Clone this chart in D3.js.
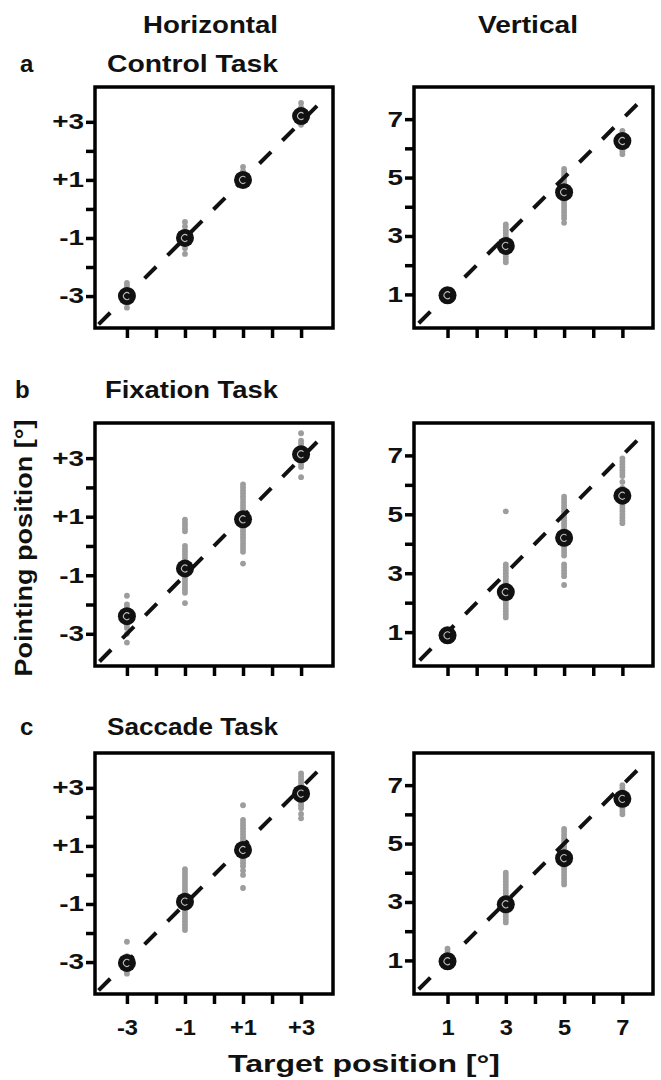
<!DOCTYPE html>
<html><head><meta charset="utf-8">
<script src="https://cdn.jsdelivr.net/npm/d3@7"></script>
<style>body{margin:0;background:#fff} svg{display:block}</style>
</head><body>
<script>
// ---------- data ----------
const hTargets = [-3, -1, 1, 3];
const vTargets = [1, 3, 5, 7];
const hTicks = [-3, -2, -1, 0, 1, 2, 3];
const vTicks = [1, 2, 3, 4, 5, 6, 7];
const hTickLabels = ["-3", "", "-1", "", "+1", "", "+3"];
const vTickLabels = ["1", "", "3", "", "5", "", "7"];
const taskNames = ["Control Task", "Fixation Task", "Saccade Task"];
const panelLetters = ["a", "b", "c"];
const columnTitles = ["Horizontal", "Vertical"];
const xAxisTitle = "Target position [°]";
const yAxisTitle = "Pointing position [°]";

const controlHMeans = [-3.0, -1.0, 1.0, 3.2];
const controlHTrials = [
  [-2.55, -2.65, -2.75, -2.85, -2.95, -3.05, -3.15, -3.25, -3.4],
  [-0.45, -0.6, -0.75, -0.9, -1.05, -1.2, -1.35, -1.55],
  [1.45, 1.3, 1.15, 1.0, 0.85],
  [3.65, 3.5, 3.4, 3.3, 3.2, 3.1, 3.0, 2.9]
];
const controlVMeans = [0.97, 2.66, 4.5, 6.25];
const controlVTrials = [
  [1.1, 1.0, 0.9],
  [3.4, 3.3, 3.2, 3.1, 3.0, 2.9, 2.8, 2.7, 2.6, 2.5, 2.4, 2.3, 2.2, 2.1],
  [5.3, 5.2, 5.1, 5.0, 4.9, 4.8, 4.7, 4.6, 4.5, 4.4, 4.3, 4.2, 4.1, 4.0, 3.9, 3.8, 3.7, 3.6, 3.45],
  [6.6, 6.5, 6.4, 6.3, 6.2, 6.1, 6.0, 5.9, 5.8]
];
const fixationHMeans = [-2.4, -0.77, 0.91, 3.13];
const fixationHTrials = [
  [-1.7, -2.0, -2.1, -2.2, -2.3, -2.4, -2.5, -2.6, -2.7, -2.8, -3.0, -3.3],
  [0.9, 0.8, 0.7, 0.6, 0.5, 0.0, -0.1, -0.2, -0.3, -0.4, -0.5, -0.6, -0.7, -0.8, -0.9, -1.0, -1.1, -1.2, -1.3, -1.4, -1.5, -1.6, -1.95],
  [2.1, 2.0, 1.9, 1.8, 1.7, 1.6, 1.5, 1.4, 1.3, 1.2, 1.1, 1.0, 0.9, 0.8, 0.7, 0.6, 0.5, 0.4, 0.3, 0.2, 0.1, 0.0, -0.1, -0.2, -0.6],
  [3.85, 3.6, 3.5, 3.4, 3.3, 3.2, 3.1, 3.0, 2.9, 2.8, 2.7, 2.35]
];
const fixationVMeans = [0.89, 2.36, 4.2, 5.63];
const fixationVTrials = [
  [1.0, 0.9, 0.8],
  [5.1, 3.3, 3.2, 3.1, 3.0, 2.9, 2.8, 2.7, 2.6, 2.5, 2.4, 2.3, 2.2, 2.1, 2.0, 1.9, 1.8, 1.7, 1.6, 1.5],
  [5.6, 5.5, 5.4, 5.3, 5.2, 5.1, 5.0, 4.9, 4.8, 4.7, 4.6, 4.5, 4.4, 4.3, 4.2, 4.1, 4.0, 3.9, 3.8, 3.7, 3.6, 3.3, 3.2, 3.1, 3.0, 2.9, 2.6],
  [6.9, 6.8, 6.7, 6.6, 6.5, 6.4, 6.3, 6.1, 5.9, 5.7, 5.5, 5.3, 5.2, 5.1, 5.0, 4.9, 4.8, 4.7]
];
const saccadeHMeans = [-3.03, -0.92, 0.86, 2.8];
const saccadeHTrials = [
  [-2.3, -2.8, -2.9, -3.0, -3.1, -3.2, -3.3, -3.4],
  [0.2, 0.1, 0.0, -0.1, -0.2, -0.3, -0.4, -0.5, -0.6, -0.7, -0.8, -0.9, -1.0, -1.1, -1.2, -1.3, -1.4, -1.5, -1.6, -1.7, -1.8, -1.9],
  [2.4, 1.9, 1.8, 1.7, 1.6, 1.5, 1.4, 1.3, 1.2, 1.1, 1.0, 0.9, 0.8, 0.7, 0.6, 0.5, 0.4, 0.3, 0.15, 0.0, -0.45],
  [3.5, 3.4, 3.3, 3.2, 3.1, 3.0, 2.9, 2.8, 2.7, 2.6, 2.5, 2.4, 2.3, 2.1, 1.95]
];
const saccadeVMeans = [0.97, 2.92, 4.5, 6.53];
const saccadeVTrials = [
  [1.4, 1.3, 1.2, 1.1, 1.0, 0.9, 0.8],
  [4.0, 3.9, 3.8, 3.7, 3.6, 3.5, 3.4, 3.3, 3.2, 3.1, 3.0, 2.9, 2.8, 2.7, 2.6, 2.5, 2.4, 2.3],
  [5.5, 5.4, 5.3, 5.2, 5.1, 5.0, 4.9, 4.8, 4.7, 4.6, 4.5, 4.4, 4.3, 4.2, 4.1, 4.0, 3.9, 3.8, 3.7, 3.6],
  [7.0, 6.9, 6.8, 6.7, 6.6, 6.5, 6.4, 6.3, 6.2, 6.1, 6.0]
];

// ---------- layout ----------
const W = 661, H = 1080;
const FONT = "'Liberation Sans', Arial, Helvetica, sans-serif";
const colX = [[95, 333], [414, 653]];
const rowY = [[87, 328], [423, 666], [753, 994]];
const dom = {
  h: { x: [-4.1, 4.1], y: [-4.1, 4.2], line: [3.55, -4.1], targets: hTargets, ticks: hTicks, labels: hTickLabels },
  v: { x: [-0.15, 8.05], y: [-0.15, 8.1], line: [7.5, -0.15], targets: vTargets, ticks: vTicks, labels: vTickLabels }
};
const panels = [
  [{ kind: "h", means: controlHMeans, trials: controlHTrials }, { kind: "v", means: controlVMeans, trials: controlVTrials }],
  [{ kind: "h", means: fixationHMeans, trials: fixationHTrials }, { kind: "v", means: fixationVMeans, trials: fixationVTrials }],
  [{ kind: "h", means: saccadeHMeans, trials: saccadeHTrials }, { kind: "v", means: saccadeVMeans, trials: saccadeVTrials }]
];

const svg = d3.select("body").append("svg").attr("width", W).attr("height", H)
  .style("font-family", FONT);

function txt(str, x, y, size, len, anchor) {
  const t = svg.append("text").attr("x", x).attr("y", y)
    .attr("font-size", size).attr("font-weight", "bold").attr("fill", "#111")
    .attr("text-anchor", anchor || "start").text(str);
  if (len) t.attr("textLength", len).attr("lengthAdjust", "spacingAndGlyphs");
  return t;
}

// column titles
txt(columnTitles[0], 143, 33, 23, 135);
txt(columnTitles[1], 478, 33, 23, 100);
// row titles and letters
const rowTitleY = [72, 398, 735];
const rowTitleX = [107, 105, 107];
const rowTitleLen = [171, 173, 171];
const letterX = [20, 15, 20];
rowTitleY.forEach((yy, i) => {
  txt(panelLetters[i], letterX[i], yy, 24, null);
  txt(taskNames[i], rowTitleX[i], yy, 23, rowTitleLen[i]);
});
// axis titles
txt(xAxisTitle, 228, 1072, 24, 272);
svg.append("text").attr("transform", "translate(32,548) rotate(-90)")
  .attr("text-anchor", "middle").attr("font-size", 24).attr("font-weight", "bold")
  .attr("fill", "#111").attr("textLength", 257).attr("lengthAdjust", "spacingAndGlyphs")
  .text(yAxisTitle);

const innerArc = d3.arc().innerRadius(2.9).outerRadius(4.0)
  .startAngle(Math.PI / 2 + 0.8).endAngle(Math.PI / 2 + 2 * Math.PI - 0.8);

panels.forEach((row, r) => {
  row.forEach((p, c) => {
    const d = dom[p.kind];
    const [x0, x1] = colX[c];
    const [y0, y1] = rowY[r];
    const x = d3.scaleLinear().domain(d.x).range([x0, x1]);
    const y = d3.scaleLinear().domain(d.y).range([y1, y0]);
    const g = svg.append("g");

    // grey trial dots
    p.trials.forEach((vals, i) => {
      g.selectAll(null).data(vals).enter().append("circle")
        .attr("cx", x(d.targets[i])).attr("cy", v => y(v))
        .attr("r", 2.9).attr("fill", "#9d9d9d");
    });

    // identity dashed line
    const line = d3.line().x(v => x(v)).y(v => y(v));
    g.append("path").attr("d", line(d.line))
      .attr("fill", "none").attr("stroke", "#111").attr("stroke-width", 4)
      .attr("stroke-dasharray", "16.5,16");

    // mean markers
    const m = g.selectAll(null).data(p.means).enter().append("g")
      .attr("transform", (v, i) => `translate(${x(d.targets[i])},${y(v)})`);
    m.append("circle").attr("r", 9).attr("fill", "#111");
    m.append("path").attr("d", innerArc()).attr("fill", "#bdbdbd");

    // frame
    g.append("rect").attr("x", x0).attr("y", y0).attr("width", x1 - x0).attr("height", y1 - y0)
      .attr("fill", "none").attr("stroke", "#000").attr("stroke-width", 3.5);

    // y axis
    const ya = g.append("g").attr("transform", `translate(${x0},0)`)
      .call(d3.axisLeft(y).tickValues(d.ticks).tickSize(9).tickPadding(2)
        .tickFormat((v, i) => d.labels[i]));
    ya.select(".domain").remove();
    ya.selectAll("line").attr("stroke", "#000").attr("stroke-width", 3.5);
    const ys = 1.3;
    ya.selectAll("text").attr("font-size", 21.5).attr("font-weight", "bold")
      .attr("font-family", FONT).attr("fill", "#111")
      .attr("x", -11 / ys).attr("transform", `scale(${ys},1)`);

    // x axis
    const xa = g.append("g").attr("transform", `translate(0,${y1})`)
      .call(d3.axisBottom(x).tickValues(d.ticks).tickSize(10).tickPadding(16)
        .tickFormat((v, i) => r === 2 ? d.labels[i] : ""));
    xa.select(".domain").remove();
    xa.selectAll("line").attr("stroke", "#000").attr("stroke-width", 3.5);
    xa.selectAll("text").attr("font-size", 21.5).attr("font-weight", "bold")
      .attr("font-family", FONT).attr("fill", "#111")
      .attr("transform", "scale(1.1,1)");
  });
});
</script>
</body></html>
